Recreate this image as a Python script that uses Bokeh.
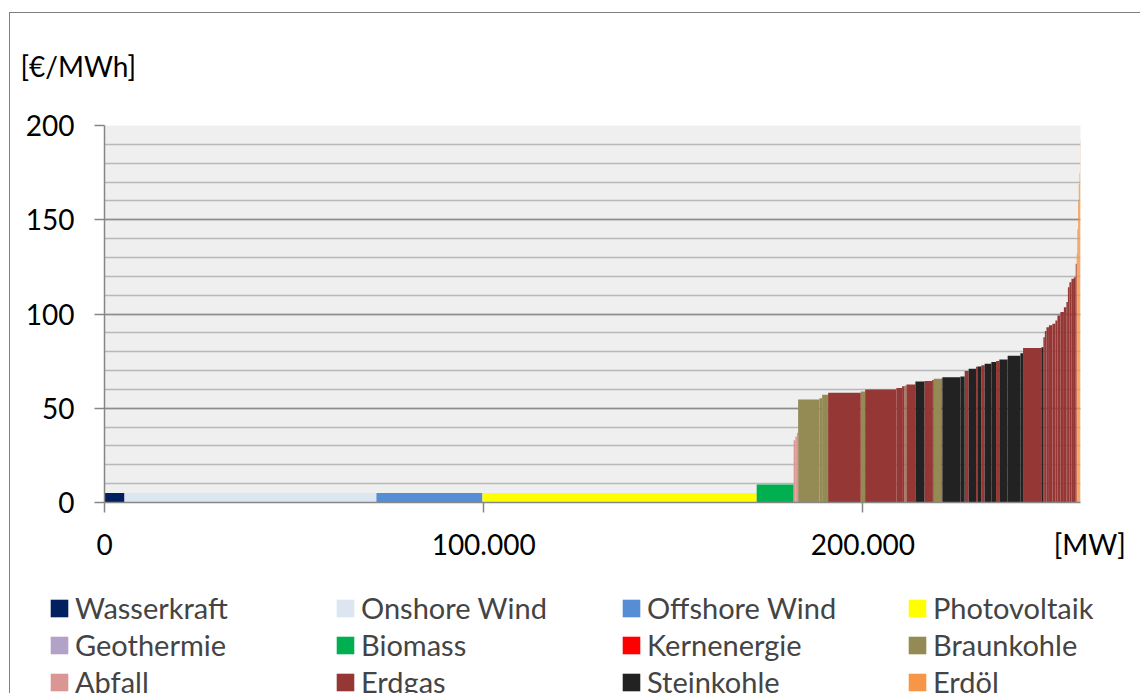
import numpy as np
from bokeh.plotting import figure
from bokeh.layouts import column
from bokeh.models import (ColumnDataSource, Range1d, FixedTicker, Legend,
                          LegendItem)
from bokeh.embed import file_html
from bokeh.resources import INLINE

# ---------------- data ----------------
techs = ["Wasserkraft", "Onshore Wind", "Offshore Wind", "Photovoltaik",
         "Geothermie", "Biomass", "Kernenergie", "Braunkohle",
         "Abfall", "Erdgas", "Steinkohle", "Erdöl"]
tech_colors = ["#002060", "#dce6f2", "#558ed5", "#ffff00",
               "#b3a2c7", "#00b050", "#ff0000", "#948a54",
               "#d99694", "#953735", "#222222", "#f79646"]

# merit-order blocks (in order): technology, capacity [MW], cost [EUR/MWh]
seg_tech = ["Wasserkraft", "Onshore Wind", "Offshore Wind", "Photovoltaik",
            "Biomass", "Abfall", "Abfall", "Abfall",
            "Braunkohle", "Braunkohle", "Braunkohle", "Erdgas", "Braunkohle",
            "Erdgas", "Erdgas", "Erdgas", "Braunkohle", "Erdgas", "Steinkohle",
            "Erdgas", "Erdgas", "Braunkohle", "Erdgas", "Steinkohle", "Steinkohle",
            "Erdgas", "Steinkohle", "Erdgas", "Steinkohle", "Erdgas", "Steinkohle",
            "Steinkohle", "Erdgas", "Steinkohle", "Steinkohle", "Steinkohle",
            "Erdgas", "Steinkohle",
            "Erdgas", "Erdgas", "Erdgas", "Erdgas", "Erdgas", "Erdgas", "Erdgas",
            "Erdgas", "Erdgas", "Erdgas", "Erdgas", "Erdgas", "Erdgas", "Erdgas",
            "Erdgas",
            "Erdöl", "Erdöl", "Erdöl", "Erdöl", "Erdöl", "Erdöl"]
seg_mw = [5270, 66450, 27950, 72330,
          9760, 450, 400, 320,
          5620, 710, 1580, 8600, 1160,
          8250, 1500, 610, 530, 2370, 2370,
          2030, 420, 2030, 260, 4750, 1130,
          1055, 1950, 340, 1055, 870, 1770,
          1240, 870, 2190, 3350, 710,
          4830, 530,
          400, 400, 660, 920, 790, 530, 790,
          920, 660, 400, 400, 530, 660, 470,
          260,
          185, 185, 185, 210, 130, 80]
seg_cost = [5, 5, 5, 5,
            9.5, 33, 35, 37,
            54.6, 55.3, 57.2, 58.2, 58.9,
            60.0, 60.7, 61.7, 61.9, 62.6, 64.2,
            64.5, 65.0, 65.6, 65.8, 66.5, 66.8,
            69.7, 70.9, 72.0, 72.1, 72.8, 73.6,
            74.6, 75.1, 75.9, 77.8, 79.2,
            81.9, 82.4,
            87.7, 91.0, 93.0, 94.0, 94.8, 96.5, 99.2,
            101.0, 103.6, 106.3, 114.2, 116.9, 118.7, 119.5,
            126.6,
            132, 145, 160, 169, 175, 192]

x_max = 257400
x_ticks = [0, 100000, 200000]
x_tick_labels = ["0", "100.000", "200.000"]
y_ticks = [0, 50, 100, 150, 200]
y_minor_ticks = [0, 10, 20, 30, 40, 50, 60, 70, 80, 90, 100, 110, 120, 130,
                 140, 150, 160, 170, 180, 190, 200]
y_unit = "[€/MWh]"
x_unit = "[MW]"

FONT = "Lato"
FS = "28px"
LFS = "29px"
GRAY = "#868686"
BORDER = "#808080"

# ---------------- chart figure ----------------
p = figure(width=1140, height=580, output_backend="svg", toolbar_location=None,
           x_range=Range1d(0, x_max), y_range=Range1d(0, 200),
           min_border_left=104, min_border_right=60, min_border_top=125,
           min_border_bottom=78)
p.background_fill_color = "#efefef"
p.border_fill_alpha = 0
p.outline_line_color = None
# outer chart border (left and top edges; the rest lies outside the window)
p.styles = {
    "background-color": "white",
    "background-image": f"linear-gradient({BORDER}, {BORDER}), linear-gradient({BORDER}, {BORDER})",
    "background-position": "9px 12px, 9px 12px",
    "background-size": "1px 2000px, 2000px 1px",
    "background-repeat": "no-repeat",
}

right = np.cumsum(seg_mw)
left = right - np.array(seg_mw)
tech_arr = np.array(seg_tech)
cost_arr = np.array(seg_cost, dtype=float)

for t, c in zip(techs, tech_colors):
    m = tech_arr == t
    src = ColumnDataSource(dict(left=left[m], right=right[m],
                                top=cost_arr[m], bottom=np.zeros(m.sum())))
    p.quad(left="left", right="right", top="top", bottom="bottom",
           source=src, fill_color=c, line_color=None)

# title used as the y unit label
p.title.text = y_unit
p.title.align = "left"
p.title.vertical_align = "top"
p.title.offset = -84
p.title.text_font = FONT
p.title.text_font_size = FS
p.title.text_font_style = "normal"
p.title.text_color = "black"
p.title.standoff = 82

# x axis: labelled ticks (incl. unit at the end), tick marks via minor ticks
ax = p.xaxis[0]
ax.ticker = FixedTicker(ticks=x_ticks + [x_max], minor_ticks=x_ticks)
ax.major_label_overrides = dict(zip(x_ticks + [x_max],
                                    x_tick_labels + ["\u2002\u2006" + x_unit]))
ax.axis_line_color = GRAY
ax.axis_line_width = 1.5
ax.major_tick_out = 0
ax.major_tick_in = 0
ax.minor_tick_out = 10
ax.minor_tick_in = 0
ax.minor_tick_line_color = GRAY
ax.minor_tick_line_width = 1.5
ax.major_label_text_font = FONT
ax.major_label_text_font_size = FS
ax.major_label_text_color = "black"
ax.major_label_standoff = 14

# y axis
ay = p.yaxis[0]
yt = FixedTicker(ticks=y_ticks, minor_ticks=y_minor_ticks)
ay.ticker = yt
p.ygrid.ticker = yt
ay.axis_line_color = GRAY
ay.axis_line_width = 1.5
ay.major_tick_line_color = GRAY
ay.major_tick_line_width = 1.5
ay.major_tick_out = 10
ay.major_tick_in = 0
ay.minor_tick_out = 0
ay.minor_tick_in = 0
ay.major_label_text_font = FONT
ay.major_label_text_font_size = FS
ay.major_label_text_color = "black"
ay.major_label_standoff = 20

p.xgrid.grid_line_color = None
p.ygrid.grid_line_color = "#8c8c8c"
p.ygrid.grid_line_width = 1.5
p.ygrid.minor_grid_line_color = "#b8b8b8"
p.ygrid.minor_grid_line_width = 1.5

# ---------------- legend strip ----------------
q = figure(width=1140, height=113, output_backend="svg", toolbar_location=None,
           x_range=Range1d(0, 1), y_range=Range1d(0, 1),
           x_axis_location=None, y_axis_location=None,
           min_border_left=0, min_border_right=0, min_border_top=0,
           min_border_bottom=0)
q.outline_line_color = None
q.background_fill_alpha = 0
q.border_fill_alpha = 0
for g in q.grid:
    g.visible = False
q.styles = {
    "background-color": "white",
    "background-image": f"linear-gradient({BORDER}, {BORDER})",
    "background-position": "9px 0px",
    "background-size": "1px 2000px",
    "background-repeat": "no-repeat",
}
for fig in (p, q):
    if "frame_align" in fig.properties():
        fig.frame_align = False

# zero-area stand-in glyphs so that each legend entry has its colour swatch
legend_renderers = {}
for t, c in zip(techs, tech_colors):
    legend_renderers[t] = q.quad(left=[0], right=[0], top=[0], bottom=[0],
                                 fill_color=c, line_color=None)

col_x = [48, 334, 620, 906]
for ci in range(4):
    items = [LegendItem(label=techs[ci + 4 * r],
                        renderers=[legend_renderers[techs[ci + 4 * r]]])
             for r in range(3)]
    lg = Legend(items=items, orientation="vertical", location=(col_x[ci], -6),
                glyph_width=22, glyph_height=22, label_standoff=5,
                label_text_font=FONT, label_text_font_size=LFS,
                label_height=32, spacing=2, padding=0, margin=0,
                border_line_color=None, background_fill_alpha=0)
    q.add_layout(lg)

open("out.html", "w").write(file_html(column(p, q), INLINE))
